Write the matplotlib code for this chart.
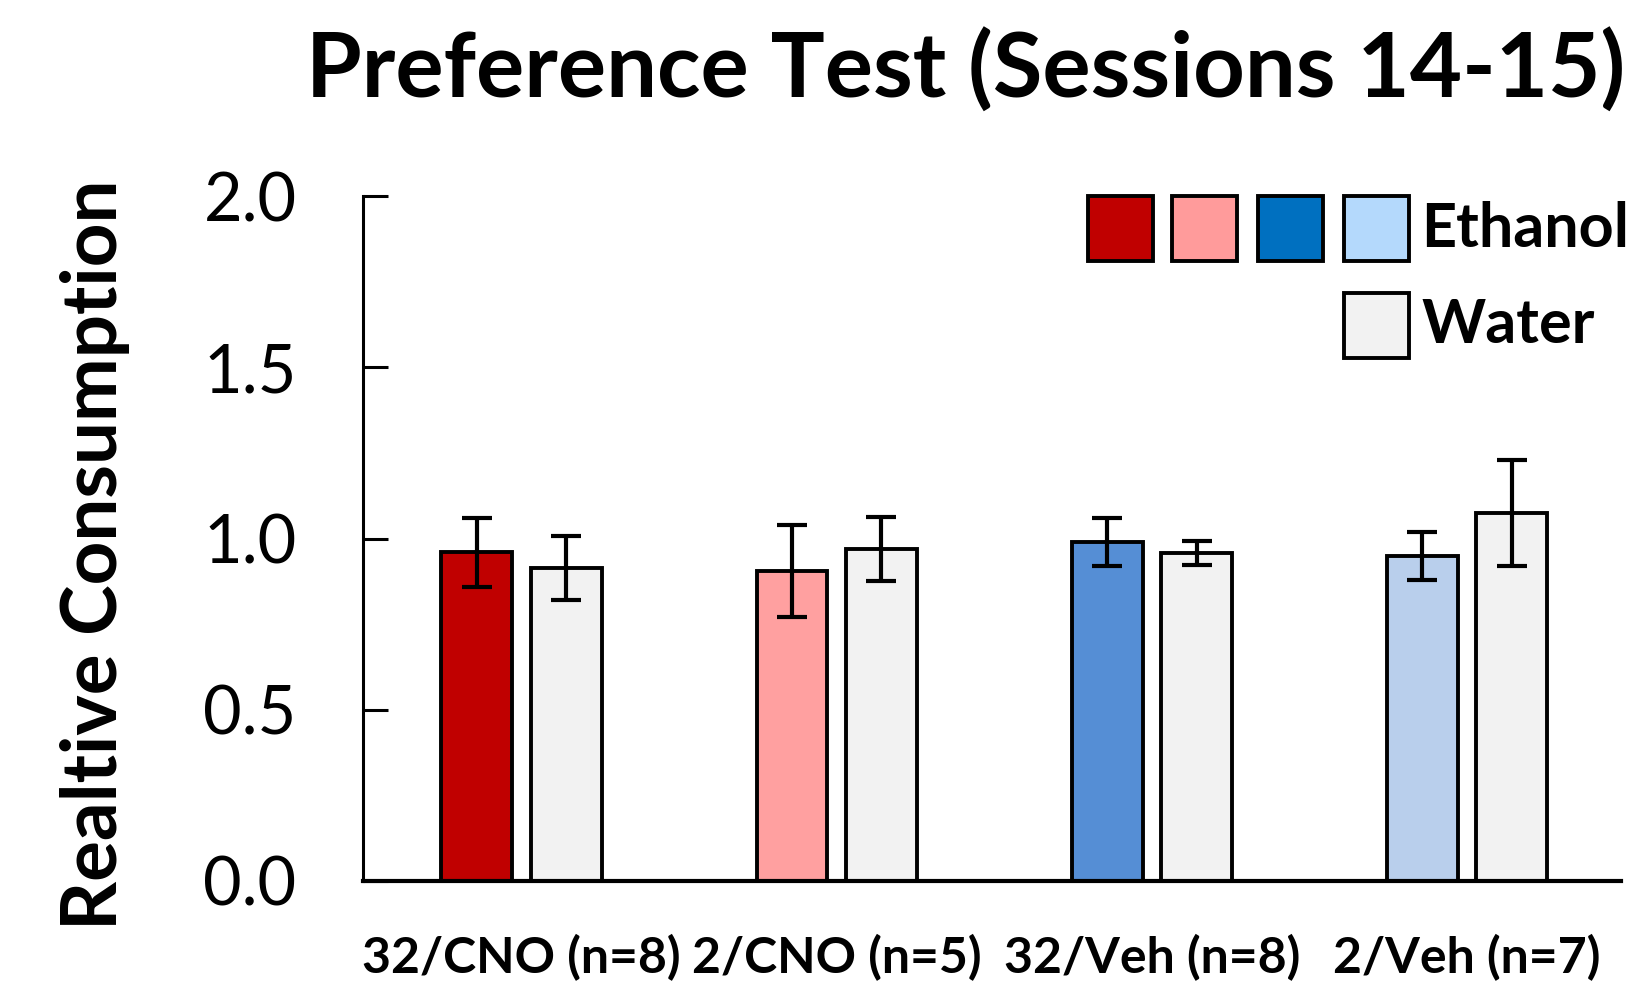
import matplotlib
matplotlib.use('Agg')
import matplotlib.pyplot as plt
from matplotlib.patches import Rectangle
import numpy as np

plt.rcParams['font.family'] = ['Lato', 'DejaVu Sans']

groups = ['32/CNO (n=8)', '2/CNO (n=5)', '32/Veh (n=8)', '2/Veh (n=7)']
ethanol_mean = [0.96, 0.905, 0.99, 0.95]
ethanol_err = [0.10, 0.135, 0.07, 0.07]
water_mean = [0.915, 0.97, 0.957, 1.075]
water_err = [0.093, 0.094, 0.035, 0.155]

ethanol_colors = ['#C00000', '#FFA0A0', '#558ED5', '#B9CFEC']
legend_colors = ['#C00000', '#FF9B9B', '#0070C0', '#B4D9FC']
water_color = '#F2F2F2'

fig = plt.figure(figsize=(16.36, 9.91), dpi=100)
ax = fig.add_axes([0.222, 0.111, 0.769, 0.691])

x = np.arange(len(groups))
width = 0.225
offset = 0.142
err_kw = dict(ecolor='black', elinewidth=3, capsize=11, capthick=3)
ax.bar(x - offset, ethanol_mean, width, yerr=ethanol_err, color=ethanol_colors,
       edgecolor='black', linewidth=2.8, error_kw=err_kw, zorder=2)
ax.bar(x + offset, water_mean, width, yerr=water_err, color=water_color,
       edgecolor='black', linewidth=2.8, error_kw=err_kw, zorder=2)

ax.set_xlim(-0.503, 3.49)
ax.set_ylim(0, 2.0)
ax.set_yticks([0, 0.5, 1.0, 1.5, 2.0])
ax.set_yticklabels(['0.0', '0.5', '1.0', '1.5', '2.0'], fontsize=48)
ax.set_xticks(x)
ax.set_xticklabels(groups, fontsize=36, fontweight='bold')
ax.tick_params(axis='y', direction='in', length=18, width=2.2, pad=48)
ax.tick_params(axis='x', length=0, pad=38)
ax.spines['top'].set_visible(False)
ax.spines['right'].set_visible(False)
ax.spines['left'].set_linewidth(2.2)
ax.spines['bottom'].set_linewidth(3)

fig.text(0.058, 0.44, 'Realtive Consumption', rotation=90, ha='center', va='center',
         fontsize=55, fontweight='bold')
fig.text(0.590, 0.929, 'Preference Test (Sessions 14-15)', ha='center', va='center',
         fontsize=65, fontweight='bold')

# legend drawn by hand: four ethanol swatches in a row, water swatch below the last one
sq_w, sq_h = 0.0516, 0.0949
for xs, c in zip([0.576, 0.643, 0.711, 0.780], legend_colors):
    ax.add_patch(Rectangle((xs, 0.905), sq_w, sq_h, transform=ax.transAxes, facecolor=c,
                           edgecolor='black', linewidth=2.8, clip_on=False))
ax.add_patch(Rectangle((0.780, 0.764), sq_w, sq_h, transform=ax.transAxes, facecolor=water_color,
                       edgecolor='black', linewidth=2.8, clip_on=False))
ax.text(0.841, 0.952, 'Ethanol', transform=ax.transAxes, ha='left', va='center',
        fontsize=44, fontweight='bold')
ax.text(0.841, 0.812, 'Water', transform=ax.transAxes, ha='left', va='center',
        fontsize=44, fontweight='bold')

fig.savefig('out.png', dpi=100)
